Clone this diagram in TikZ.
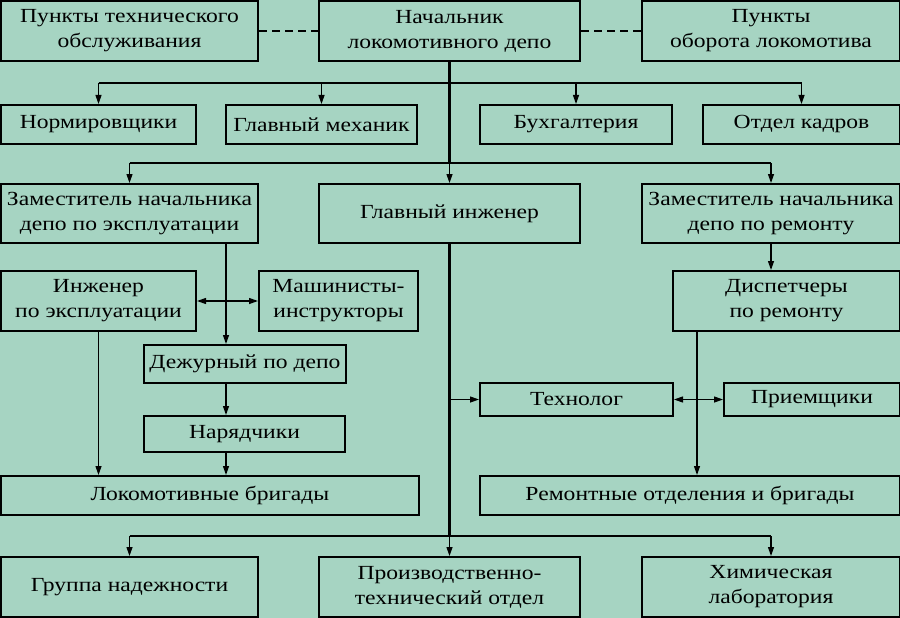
\documentclass[tikz,border=0pt]{standalone}
\usepackage{fontspec}
\setmainfont[FakeStretch=1.18]{Liberation Serif}
\usetikzlibrary{arrows.meta,calc}
\definecolor{bg}{RGB}{166,212,194}
\tikzset{
  box/.style={draw, line width=2pt, fill=bg, inner sep=0pt, align=center,
    font=\fontsize{20}{25}\selectfont, anchor=north west},
  conn/.style={line width=1.2pt},
  bus/.style={line width=1.8pt},
  mainline/.style={line width=2.5pt},
  arr/.style={conn, -{Triangle[length=9pt,width=6pt]}},
  barr/.style={conn, {Triangle[length=9pt,width=6pt]}-{Triangle[length=9pt,width=6pt]}},
  dashline/.style={line width=2pt, dash pattern=on 8pt off 5pt}
}
\newcommand\bx[6]{\node[box, minimum width=#4pt-#2pt, minimum height=#5pt-#3pt] (#1) at (#2,#3) {#6};}
\begin{document}
\begin{tikzpicture}[x=1pt,y=-1pt]
\fill[bg] (0,0) rectangle (900,618);
\useasboundingbox (0,0) rectangle (900,618);
\bx{pto}{0}{0}{257}{60}{Пункты технического\\обслуживания}
\bx{nach}{318}{0}{579}{60}{Начальник\\локомотивного депо}
\bx{pol}{641}{0}{899}{60}{Пункты\\оборота локомотива}
\bx{norm}{0}{104}{195}{143}{Нормировщики}
\bx{meh}{225}{104}{416}{143}{Главный механик}
\bx{buh}{479}{104}{671}{143}{Бухгалтерия}
\bx{kadr}{702}{104}{899}{143}{Отдел кадров}
\bx{zam1}{0}{183}{257}{242}{Заместитель начальника\\депо по эксплуатации}
\bx{glav}{318}{183}{579}{242}{Главный инженер}
\bx{zam2}{641}{183}{899}{242}{Заместитель начальника\\депо по ремонту}
\bx{inzh}{0}{270}{195}{330}{Инженер\\по эксплуатации}
\bx{mash}{258}{270}{417}{330}{Машинисты-\\инструкторы}
\bx{disp}{672}{270}{899}{330}{Диспетчеры\\по ремонту}
\bx{dezh}{143}{344}{345}{382}{Дежурный по депо}
\bx{tech}{479}{382}{672}{415}{Технолог}
\bx{priem}{723}{382}{899}{415}{Приемщики}
\bx{nar}{143}{415}{344}{451}{Нарядчики}
\bx{lok}{0}{475}{418}{514}{Локомотивные бригады}
\bx{rem}{479}{475}{899}{514}{Ремонтные отделения и бригады}
\bx{grup}{0}{556}{257}{616}{Группа надежности}
\bx{proizv}{318}{556}{579}{616}{Производственно-\\технический отдел}
\bx{him}{641}{556}{899}{616}{Химическая\\лаборатория}

\coordinate (b1) at (nach.south |- 0,83);
\coordinate (b2) at (nach.south |- 0,163);
\coordinate (b3) at (glav.south |- 0,536);
\coordinate (v1) at (226,0);
\coordinate (v2) at (697,0);

\draw[dashline] (pto.east) -- (nach.west);
\draw[dashline] (nach.east) -- (pol.west);

\draw[mainline] (nach.south) -- (b2);
\draw[bus] (b1 -| norm.north) -- (b1 -| kadr.north);
\foreach \n in {norm,meh,buh,kadr} \draw[arr] (b1 -| \n.north) -- (\n.north);
\draw[conn] (b2 -| zam1.north) -- (b2 -| zam2.north);
\foreach \n in {zam1,glav,zam2} \draw[arr] (b2 -| \n.north) -- (\n.north);

\draw[mainline] (glav.south) -- (b3);
\draw[arr] (glav.south |- tech.west) -- (tech.west);
\draw[bus] (b3 -| grup.north) -- (b3 -| him.north);
\foreach \n in {grup,proizv,him} \draw[arr] (b3 -| \n.north) -- (\n.north);

\draw[arr] (zam1.south -| v1) -- (dezh.north -| v1);
\draw[barr] (inzh.east) -- (mash.west);
\draw[arr] (dezh.south -| v1) -- (nar.north -| v1);
\draw[arr] (nar.south -| v1) -- (lok.north -| v1);
\draw[arr] (inzh.south) -- (inzh.south |- lok.north);

\draw[arr] (zam2.south) -- (zam2.south |- disp.north);
\draw[arr] (disp.south -| v2) -- (rem.north -| v2);
\draw[barr] (tech.east) -- (priem.west);
\end{tikzpicture}
\end{document}
